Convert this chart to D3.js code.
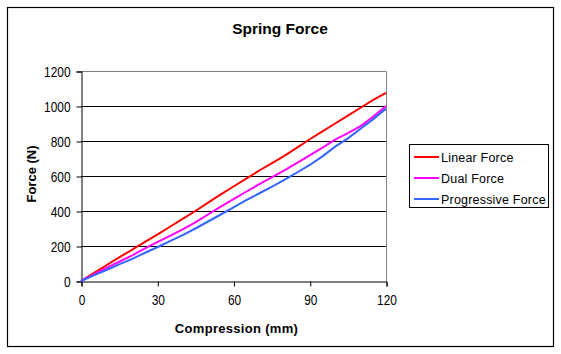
<!DOCTYPE html>
<html><head><meta charset="utf-8">
<script src="https://cdn.jsdelivr.net/npm/d3@7"></script>
<style>body{margin:0;background:#fff}svg{display:block}text{font-family:"Liberation Sans",Arial,sans-serif}</style>
</head><body><svg id="c" width="561" height="354"></svg>
<script>
const compression = [0,5,10,15,20,25,30,35,40,45,50,55,60,65,70,75,80,85,90,95,100,105,110,115,120];
const linearForce = [0,45,90,135,178,222,265,310,355,400,448,495,540,585,630,672,715,762,810,855,900,945,990,1035,1075];
const dualForce = [0,38,75,110,145,185,222,258,295,335,380,425,468,510,552,592,632,675,718,762,808,845,885,940,1000];
const progressiveForce = [0,32,63,95,125,160,193,228,262,300,340,380,421,462,500,538,578,620,663,712,768,815,870,925,985];
const seriesNames = ["Linear Force","Dual Force","Progressive Force"];
const seriesColors = ["#ff0000","#ff00ff","#3366ff"];
const xTicks = [0,30,60,90,120];
const yTicks = [0,200,400,600,800,1000,1200];

const svg = d3.select("#c");
svg.append("rect").attr("x",7.5).attr("y",7.5).attr("width",546).attr("height",339)
  .attr("fill","#fff").attr("stroke","#000").attr("stroke-width",1.2);

const L=81, R=386, T=71, B=281;
const x = d3.scaleLinear().domain([0,120]).range([L,R]);
const y = d3.scaleLinear().domain([0,1200]).range([B,T]);

// gridlines
svg.append("g").selectAll("line").data(yTicks.filter(d=>d>0 && d<1200)).join("line")
  .attr("x1",L).attr("x2",R).attr("y1",d=>Math.round(y(d))+0.5).attr("y2",d=>Math.round(y(d))+0.5)
  .attr("stroke","#000").attr("stroke-width",1);
// top & right plot border gray
svg.append("path").attr("d",`M${L},${T+0.5}H${R+0.5}V${B}`).attr("fill","none").attr("stroke","#808080").attr("stroke-width",1);

// axes
const yAxis = d3.axisLeft(y).tickValues(yTicks).tickFormat(d3.format("d")).tickSize(5).tickPadding(6);
const gy = svg.append("g").attr("transform",`translate(${L+0.5},0.5)`).call(yAxis);
const xAxis = d3.axisBottom(x).tickValues(xTicks).tickFormat(d3.format("d")).tickSize(5).tickPadding(8);
const gx = svg.append("g").attr("transform",`translate(0.5,${B+0.5})`).call(xAxis);
[gx,gy].forEach(g=>{
  g.select(".domain").attr("stroke","#000");
  g.selectAll(".tick line").attr("stroke","#000");
  g.selectAll("text").attr("font-size",14.5).attr("fill","#000")
    .attr("textLength",function(){return this.textContent.length*6.6;})
    .attr("lengthAdjust","spacingAndGlyphs");
});

// lines
const data = [linearForce, dualForce, progressiveForce];
const line = d3.line().x((d,i)=>x(compression[i])).y(d=>y(d));
svg.append("g").selectAll("path").data(data).join("path")
  .attr("d",line).attr("fill","none").attr("stroke",(d,i)=>seriesColors[i]).attr("stroke-width",2);

// titles
svg.append("text").attr("x",280).attr("y",34).attr("text-anchor","middle")
  .attr("font-size",15.5).attr("font-weight","bold").text("Spring Force");
svg.append("text").attr("x",236.5).attr("y",333).attr("text-anchor","middle")
  .attr("font-size",13).attr("font-weight","bold").attr("letter-spacing",0.3).text("Compression (mm)");
svg.append("text").attr("transform",`translate(36,174) rotate(-90)`).attr("text-anchor","middle")
  .attr("font-size",13).attr("font-weight","bold").text("Force (N)");

// legend
const lg = svg.append("g");
lg.append("rect").attr("x",409.5).attr("y",144.5).attr("width",139).attr("height",63)
  .attr("fill","#fff").attr("stroke","#000").attr("stroke-width",1);
seriesNames.forEach((n,i)=>{
  const yy = 157 + i*21;
  lg.append("line").attr("x1",414).attr("x2",439).attr("y1",yy).attr("y2",yy)
    .attr("stroke",seriesColors[i]).attr("stroke-width",2);
  lg.append("text").attr("x",441).attr("y",yy+4.5).attr("font-size",12.5).attr("letter-spacing",0.2).text(n);
});
</script></body></html>
